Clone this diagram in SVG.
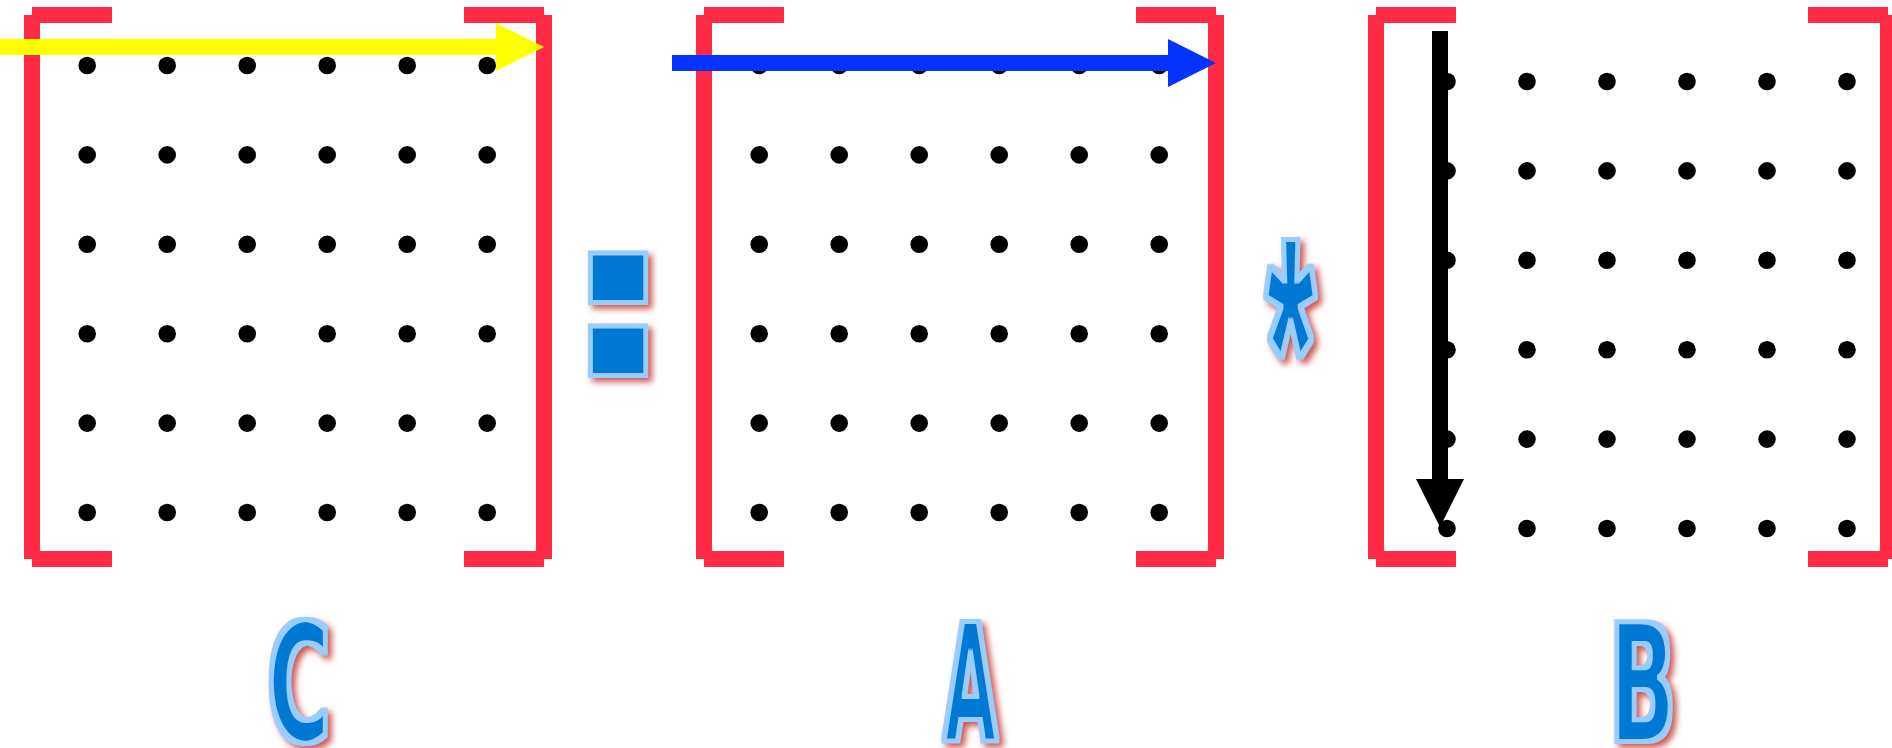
<svg xmlns="http://www.w3.org/2000/svg" width="1892" height="748" viewBox="0 0 1892 748">
<style>
.br{fill:none;stroke:#FF2A44;stroke-width:16;stroke-linecap:butt}
.d circle{fill:#000}
.lbl{font-family:"DejaVu Sans","Liberation Sans",sans-serif;font-weight:bold;text-anchor:middle;fill:#000}
.ast{font-family:"Liberation Sans","DejaVu Sans",sans-serif;font-weight:bold;text-anchor:middle;fill:#000}
.arr{stroke-width:16;stroke-linecap:butt;fill:none}
</style>
<defs>
<filter id="txt" x="-60%" y="-25%" width="220%" height="150%" color-interpolation-filters="sRGB">
<feMorphology in="SourceAlpha" operator="dilate" radius="3" result="dil"/>
<feMorphology in="SourceAlpha" operator="erode" radius="2" result="ero"/>
<feGaussianBlur in="dil" stdDeviation="3" result="blur"/>
<feOffset in="blur" dx="4" dy="4" result="off"/>
<feFlood flood-color="#c8473d" flood-opacity="0.9"/>
<feComposite in2="off" operator="in" result="shadow"/>
<feFlood flood-color="#99CCFF"/>
<feComposite in2="dil" operator="in" result="ring"/>
<feFlood flood-color="#0079D4"/>
<feComposite in2="ero" operator="in" result="core"/>
<feMerge><feMergeNode in="shadow"/><feMergeNode in="ring"/><feMergeNode in="core"/></feMerge>
</filter>
<filter id="txtBold" x="-60%" y="-25%" width="220%" height="150%" color-interpolation-filters="sRGB">
<feMorphology in="SourceAlpha" operator="dilate" radius="5" result="src"/>
<feMorphology in="src" operator="dilate" radius="3" result="dil"/>
<feMorphology in="src" operator="erode" radius="2" result="ero"/>
<feGaussianBlur in="dil" stdDeviation="3" result="blur"/>
<feOffset in="blur" dx="4" dy="4" result="off"/>
<feFlood flood-color="#c8473d" flood-opacity="0.9"/>
<feComposite in2="off" operator="in" result="shadow"/>
<feFlood flood-color="#99CCFF"/>
<feComposite in2="dil" operator="in" result="ring"/>
<feFlood flood-color="#0079D4"/>
<feComposite in2="ero" operator="in" result="core"/>
<feMerge><feMergeNode in="shadow"/><feMergeNode in="ring"/><feMergeNode in="core"/></feMerge>
</filter>
<marker id="hY" markerUnits="strokeWidth" markerWidth="3" markerHeight="3" refX="0" refY="1.5" orient="auto" overflow="visible"><path d="M0,0L3,1.5L0,3z" fill="#FFFF00"/></marker>
<marker id="hB" markerUnits="strokeWidth" markerWidth="3" markerHeight="3" refX="0" refY="1.5" orient="auto" overflow="visible"><path d="M0,0L3,1.5L0,3z" fill="#0433FF"/></marker>
<marker id="hK" markerUnits="strokeWidth" markerWidth="3" markerHeight="3" refX="0" refY="1.5" orient="auto" overflow="visible"><path d="M0,0L3,1.5L0,3z" fill="#000000"/></marker>
<g id="grid">
<circle cx="0" cy="0" r="8.8"/><circle cx="80" cy="0" r="8.8"/><circle cx="160" cy="0" r="8.8"/><circle cx="240" cy="0" r="8.8"/><circle cx="320" cy="0" r="8.8"/><circle cx="400" cy="0" r="8.8"/>
<circle cx="0" cy="89.4" r="8.8"/><circle cx="80" cy="89.4" r="8.8"/><circle cx="160" cy="89.4" r="8.8"/><circle cx="240" cy="89.4" r="8.8"/><circle cx="320" cy="89.4" r="8.8"/><circle cx="400" cy="89.4" r="8.8"/>
<circle cx="0" cy="178.8" r="8.8"/><circle cx="80" cy="178.8" r="8.8"/><circle cx="160" cy="178.8" r="8.8"/><circle cx="240" cy="178.8" r="8.8"/><circle cx="320" cy="178.8" r="8.8"/><circle cx="400" cy="178.8" r="8.8"/>
<circle cx="0" cy="268.2" r="8.8"/><circle cx="80" cy="268.2" r="8.8"/><circle cx="160" cy="268.2" r="8.8"/><circle cx="240" cy="268.2" r="8.8"/><circle cx="320" cy="268.2" r="8.8"/><circle cx="400" cy="268.2" r="8.8"/>
<circle cx="0" cy="357.6" r="8.8"/><circle cx="80" cy="357.6" r="8.8"/><circle cx="160" cy="357.6" r="8.8"/><circle cx="240" cy="357.6" r="8.8"/><circle cx="320" cy="357.6" r="8.8"/><circle cx="400" cy="357.6" r="8.8"/>
<circle cx="0" cy="447" r="8.8"/><circle cx="80" cy="447" r="8.8"/><circle cx="160" cy="447" r="8.8"/><circle cx="240" cy="447" r="8.8"/><circle cx="320" cy="447" r="8.8"/><circle cx="400" cy="447" r="8.8"/>
</g>
</defs>
<rect width="1892" height="748" fill="#FFFFFF"/>

<g id="matrix-C">
<path class="br" d="M32,15V559M32,15H112M32,559H112M544,15V559M464,15H544M464,559H544"/>
<use href="#grid" class="d" transform="translate(87.2,65.5)"/>
</g>
<g id="matrix-A">
<path class="br" d="M704,15V559M704,15H784M704,559H784M1216,15V559M1136,15H1216M1136,559H1216"/>
<use href="#grid" class="d" transform="translate(759.2,65.5)"/>
</g>
<g id="matrix-B">
<path class="br" d="M1376,15V559M1376,15H1456M1376,559H1456M1888,15V559M1808,15H1888M1808,559H1888"/>
<use href="#grid" class="d" transform="translate(1447,81.5)"/>
</g>

<g id="op-equals" filter="url(#txtBold)">
<text class="lbl" font-size="203" transform="translate(618,370) scale(1.24,1)">:</text>
</g>
<g id="op-times" filter="url(#txt)">
<text class="ast" font-size="317" transform="translate(1290.5,458) scale(0.40,1)">*</text>
</g>

<g id="label-C" filter="url(#txt)">
<text class="lbl" font-size="163" transform="translate(299,741) scale(0.525,1)">C</text>
</g>
<g id="label-A" filter="url(#txt)">
<text class="lbl" font-size="163" transform="translate(970.5,741) scale(0.42,1)">A</text>
</g>
<g id="label-B" filter="url(#txt)">
<text class="lbl" font-size="163" transform="translate(1642.5,741) scale(0.537,1)">B</text>
</g>

<g id="connectors">
<line class="arr" x1="0" y1="47" x2="496" y2="47" stroke="#FFFF00" marker-end="url(#hY)"/>
<line class="arr" x1="672" y1="63" x2="1168" y2="63" stroke="#0433FF" marker-end="url(#hB)"/>
<line class="arr" x1="1440" y1="31" x2="1440" y2="479" stroke="#000000" marker-end="url(#hK)"/>
</g>
</svg>
